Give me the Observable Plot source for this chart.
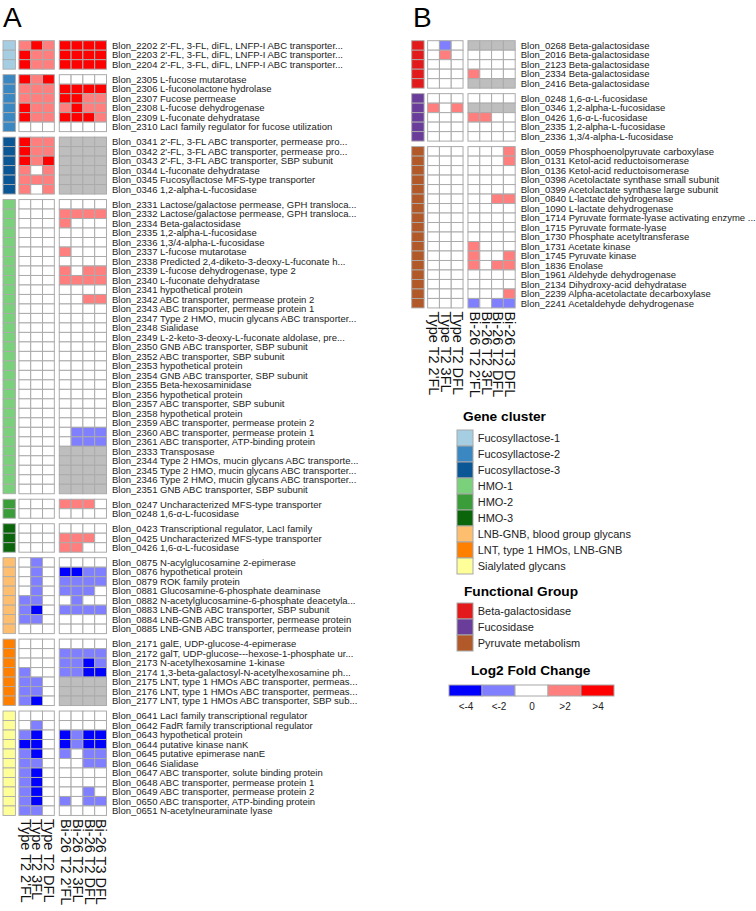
<!DOCTYPE html>
<html><head><meta charset="utf-8">
<script src="https://cdn.jsdelivr.net/npm/d3@7"></script>
<script src="https://cdn.jsdelivr.net/npm/@observablehq/plot@0.6"></script>
<style>
body{margin:0;background:#fff;font-family:"Liberation Sans",Arial,sans-serif;}
#root{position:relative;width:756px;height:911px;overflow:hidden;}
.abs{position:absolute;}
.panel{font-size:28px;line-height:1;color:#000;}
.ltitle{font-weight:bold;font-size:13.7px;line-height:1;color:#000;white-space:nowrap;}
svg{overflow:visible;}
</style></head><body><div id="root"></div>
<script>
const N = null;
const conditions = ["Type T2 2'FL","Type T2 3FL","Type T2 DFL","Bi-26 T2 2'FL","Bi-26 T2 3FL","Bi-26 T2 DFL","Bi-26 T3 DFL"];

const clusterNames = ["Fucosyllactose-1","Fucosyllactose-2","Fucosyllactose-3","HMO-1","HMO-2","HMO-3","LNB-GNB, blood group glycans","LNT, type 1 HMOs, LNB-GNB","Sialylated glycans"];
const clusterColors = ["#a6cee3","#3a87c1","#0b5796","#7bd07b","#3a9d3a","#0b660b","#fdbf6f","#ff7f00","#ffff99"];
const groupNames = ["Beta-galactosidase","Fucosidase","Pyruvate metabolism"];
const groupColors = ["#e31a1c","#6a3d9a","#b15928"];
const fcLabels = ["<-4","<-2","0",">2",">4"];
const fcColors = ["#0000ff","#7f7fff","#ffffff","#ff7f7f","#ff0000"];
const naColor = "#bebebe";

// Panel A
const clusterCountsA = [3,6,6,31,2,3,8,7,11];
const labelsA = [
"Blon_2202 2'-FL, 3-FL, diFL, LNFP-I ABC transporter...",
"Blon_2203 2'-FL, 3-FL, diFL, LNFP-I ABC transporter...",
"Blon_2204 2'-FL, 3-FL, diFL, LNFP-I ABC transporter...",
"Blon_2305 L-fucose mutarotase",
"Blon_2306 L-fuconolactone hydrolase",
"Blon_2307 Fucose permease",
"Blon_2308 L-fucose dehydrogenase",
"Blon_2309 L-fuconate dehydratase",
"Blon_2310 LacI family regulator for fucose utilization",
"Blon_0341 2'-FL, 3-FL ABC transporter, permease pro...",
"Blon_0342 2'-FL, 3-FL ABC transporter, permease pro...",
"Blon_0343 2'-FL, 3-FL ABC transporter, SBP subunit",
"Blon_0344 L-fuconate dehydratase",
"Blon_0345 Fucosyllactose MFS-type transporter",
"Blon_0346 1,2-alpha-L-fucosidase",
"Blon_2331 Lactose/galactose permease, GPH transloca...",
"Blon_2332 Lactose/galactose permease, GPH transloca...",
"Blon_2334 Beta-galactosidase",
"Blon_2335 1,2-alpha-L-fucosidase",
"Blon_2336 1,3/4-alpha-L-fucosidase",
"Blon_2337 L-fucose mutarotase",
"Blon_2338 Predicted 2,4-diketo-3-deoxy-L-fuconate h...",
"Blon_2339 L-fucose dehydrogenase, type 2",
"Blon_2340 L-fuconate dehydratase",
"Blon_2341 hypothetical protein",
"Blon_2342 ABC transporter, permease protein 2",
"Blon_2343 ABC transporter, permease protein 1",
"Blon_2347 Type 2 HMO, mucin glycans ABC transporter...",
"Blon_2348 Sialidase",
"Blon_2349 L-2-keto-3-deoxy-L-fuconate aldolase, pre...",
"Blon_2350 GNB ABC transporter, SBP subunit",
"Blon_2352 ABC transporter, SBP subunit",
"Blon_2353 hypothetical protein",
"Blon_2354 GNB ABC transporter, SBP subunit",
"Blon_2355 Beta-hexosaminidase",
"Blon_2356 hypothetical protein",
"Blon_2357 ABC transporter, SBP subunit",
"Blon_2358 hypothetical protein",
"Blon_2359 ABC transporter, permease protein 2",
"Blon_2360 ABC transporter, permease protein 1",
"Blon_2361 ABC transporter, ATP-binding protein",
"Blon_2333 Transposase",
"Blon_2344 Type 2 HMOs, mucin glycans ABC transporte...",
"Blon_2345 Type 2 HMO, mucin glycans ABC transporter...",
"Blon_2346 Type 2 HMO, mucin glycans ABC transporter...",
"Blon_2351 GNB ABC transporter, SBP subunit",
"Blon_0247 Uncharacterized MFS-type transporter",
"Blon_0248 1,6-α-L-fucosidase",
"Blon_0423 Transcriptional regulator, LacI family",
"Blon_0425 Uncharacterized MFS-type transporter",
"Blon_0426 1,6-α-L-fucosidase",
"Blon_0875 N-acylglucosamine 2-epimerase",
"Blon_0876 hypothetical protein",
"Blon_0879 ROK family protein",
"Blon_0881 Glucosamine-6-phosphate deaminase",
"Blon_0882 N-acetylglucosamine-6-phosphate deacetyla...",
"Blon_0883 LNB-GNB ABC transporter, SBP subunit",
"Blon_0884 LNB-GNB ABC transporter, permease protein",
"Blon_0885 LNB-GNB ABC transporter, permease protein",
"Blon_2171 galE, UDP-glucose-4-epimerase",
"Blon_2172 galT, UDP-glucose---hexose-1-phosphate ur...",
"Blon_2173 N-acetylhexosamine 1-kinase",
"Blon_2174 1,3-beta-galactosyl-N-acetylhexosamine ph...",
"Blon_2175 LNT, type 1 HMOs ABC transporter, permeas...",
"Blon_2176 LNT, type 1 HMOs ABC transporter, permeas...",
"Blon_2177 LNT, type 1 HMOs ABC transporter, SBP sub...",
"Blon_0641 LacI family transcriptional regulator",
"Blon_0642 FadR family transcriptional regulator",
"Blon_0643 hypothetical protein",
"Blon_0644 putative kinase nanK",
"Blon_0645 putative epimerase nanE",
"Blon_0646 Sialidase",
"Blon_0647 ABC transporter, solute binding protein",
"Blon_0648 ABC transporter, permease protein 1",
"Blon_0649 ABC transporter, permease protein 2",
"Blon_0650 ABC transporter, ATP-binding protein",
"Blon_0651 N-acetylneuraminate lyase"
];
const valuesA = [
[3,5,3,5,5,5,5],[5,3,3,5,5,5,5],[5,3,3,5,5,5,5],
[5,3,5,0,0,0,0],[3,3,3,5,5,5,5],[3,3,3,5,5,3,3],[5,3,3,3,5,3,3],[5,3,3,5,5,5,3],[0,0,0,0,0,0,0],
[5,3,3,N,N,N,N],[5,3,3,N,N,N,N],[5,3,5,N,N,N,N],[3,0,3,N,N,N,N],[3,3,3,N,N,N,N],[3,0,3,N,N,N,N],
[0,0,0,0,0,0,0],[0,0,0,3,3,3,3],[0,0,0,3,0,0,0],[0,0,0,0,0,0,0],[0,0,0,0,0,0,0],
[0,0,0,3,0,0,0],[0,0,0,0,0,0,0],[0,0,0,3,0,3,3],[0,0,0,3,3,3,3],[0,0,0,0,0,0,0],
[0,0,0,0,0,3,3],[0,0,0,0,0,0,0],[0,0,0,0,0,0,0],[0,0,0,0,0,0,0],[0,0,0,0,0,0,0],
[0,0,0,0,0,0,0],[0,0,0,0,0,0,0],[0,0,0,0,0,0,0],[0,0,0,0,0,0,0],[0,0,0,0,0,0,0],
[0,0,0,0,0,0,0],[0,0,0,0,0,0,0],[0,0,0,0,0,0,0],[0,0,0,0,0,0,0],[0,0,0,0,-3,-3,-3],
[0,0,0,0,-3,-3,-3],[0,0,0,N,N,N,N],[0,0,0,N,N,N,N],[0,0,0,N,N,N,N],[0,0,0,N,N,N,N],[0,0,0,N,N,N,N],
[0,0,0,3,3,3,0],[0,0,0,0,0,0,0],
[0,0,0,0,0,0,0],[0,0,0,3,3,3,0],[0,0,0,3,3,0,0],
[0,-3,0,0,0,0,0],[0,-3,0,-5,-5,-3,-3],[0,-3,0,-3,-3,-3,-3],[0,-3,0,-3,-3,-3,0],
[-3,-3,0,0,-3,0,0],[-3,-5,0,-3,-3,-3,-3],[-3,-3,0,0,0,0,0],[0,0,0,0,0,0,0],
[0,0,0,0,0,0,0],[0,0,0,-3,-3,-3,-3],[0,0,0,-3,-3,-5,-3],[-3,0,0,-3,-3,-5,-5],
[-3,-3,0,N,N,N,N],[-3,-3,0,N,N,N,N],[-3,-5,0,N,N,N,N],
[0,0,0,0,0,0,0],[0,-3,0,0,0,0,0],[-3,-5,0,-5,-3,-5,-5],[-5,-5,0,-5,-3,-5,-5],
[-3,-5,0,-3,0,-3,-3],[-3,-3,0,0,0,-3,-3],[-3,-5,0,0,0,0,0],[-3,-5,0,0,0,0,0],
[-3,-5,0,0,0,-3,0],[-3,-5,0,-3,0,-3,-3],[-3,-3,0,0,0,0,0]
];

// Panel B
const groupCountsB = [5,5,17];
const labelsB = [
"Blon_0268 Beta-galactosidase","Blon_2016 Beta-galactosidase","Blon_2123 Beta-galactosidase","Blon_2334 Beta-galactosidase","Blon_2416 Beta-galactosidase",
"Blon_0248 1,6-α-L-fucosidase","Blon_0346 1,2-alpha-L-fucosidase","Blon_0426 1,6-α-L-fucosidase","Blon_2335 1,2-alpha-L-fucosidase","Blon_2336 1,3/4-alpha-L-fucosidase",
"Blon_0059 Phosphoenolpyruvate carboxylase","Blon_0131 Ketol-acid reductoisomerase","Blon_0136 Ketol-acid reductoisomerase",
"Blon_0398 Acetolactate synthase small subunit","Blon_0399 Acetolactate synthase large subunit","Blon_0840 L-lactate dehydrogenase",
"Blon_1090 L-lactate dehydrogenase","Blon_1714 Pyruvate formate-lyase activating enzyme ...","Blon_1715 Pyruvate formate-lyase",
"Blon_1730 Phosphate acetyltransferase","Blon_1731 Acetate kinase","Blon_1745 Pyruvate kinase","Blon_1836 Enolase",
"Blon_1961 Aldehyde dehydrogenase","Blon_2134 Dihydroxy-acid dehydratase","Blon_2239 Alpha-acetolactate decarboxylase",
"Blon_2241 Acetaldehyde dehydrogenase"
];
const valuesB = [
[0,-3,0,N,N,N,N],[0,3,0,0,0,0,0],[0,0,0,0,0,0,0],[0,0,0,3,0,0,0],[0,0,0,N,N,N,N],
[0,0,0,0,0,0,0],[3,0,3,N,N,N,N],[0,0,0,3,3,0,0],[0,0,0,0,0,0,0],[0,0,0,0,0,0,0],
[0,0,0,0,0,0,3],[0,0,0,0,0,0,3],[0,0,0,0,0,0,0],[0,0,0,0,0,0,0],[0,0,0,0,0,0,0],
[0,0,0,0,0,3,3],[0,0,0,0,0,0,0],[0,0,0,0,0,0,0],[0,0,0,0,0,0,0],[0,0,0,0,0,0,0],
[0,0,0,3,0,0,0],[0,0,0,3,0,0,3],[0,0,0,3,0,3,3],[0,0,0,0,0,0,0],[0,0,0,0,0,0,0],
[0,0,0,0,0,0,3],[0,0,0,-3,0,-3,-3]
];

// ---- layout (in cell units) ----
const UX = 11.8, UY = 9.49, GAP = 5.5 / UY;
const X_TYPE = 1.35, X_BI = X_TYPE + 3 + 0.42, X_END = X_BI + 4;
const COLX = conditions.map((_, j) => j < 3 ? X_TYPE + j : X_BI + (j - 3));
const STROKE = "#ababab";

const colorDomain = [...fcLabels, "NA", ...clusterNames, ...groupNames];
const colorRange = [...fcColors, naColor, ...clusterColors, ...groupColors];
function binOf(v) {
  if (v == null) return "NA";
  if (v < -4) return "<-4";
  if (v < -2) return "<-2";
  if (v > 4) return ">4";
  if (v > 2) return ">2";
  return "0";
}

function buildPanel(labels, keys, counts, values, o) {
  const rows = [];
  let i = 0;
  counts.forEach((n, g) => {
    for (let k = 0; k < n; k++, i++) {
      const y1 = i + g * GAP;
      rows.push({label: labels[i], key: keys[g], vals: values[i], y1, y2: y1 + 1, yc: y1 + 0.5});
    }
  });
  const total = i + (counts.length - 1) * GAP;
  const cells = rows.flatMap(r => r.vals.map((v, j) => ({x1: COLX[j], x2: COLX[j] + 1, y1: r.y1, y2: r.y2, bin: binOf(v)})));
  const cols = conditions.map((name, j) => ({name, xc: COLX[j] + 0.5}));
  return Plot.plot({
    width: o.width, height: o.height, margin: 0,
    style: {fontFamily: "'Liberation Sans', Arial, sans-serif", background: "transparent", overflow: "visible"},
    x: {domain: [0, X_END], range: [o.left, o.left + X_END * UX], axis: null},
    y: {domain: [0, total], range: [o.top, o.top + total * UY], axis: null},
    color: {type: "ordinal", domain: colorDomain, range: colorRange},
    marks: [
      Plot.rect(rows, {x1: 0, x2: 1.05, y1: "y1", y2: "y2", fill: "key", stroke: STROKE, strokeWidth: 0.9}),
      Plot.rect(cells, {x1: "x1", x2: "x2", y1: "y1", y2: "y2", fill: "bin", stroke: STROKE, strokeWidth: 1}),
      Plot.text(rows, {x: () => X_END, y: "yc", text: "label", textAnchor: "start", dx: 5, fontSize: 9.5, fill: "#222"}),
      Plot.text(cols, {x: "xc", y: () => total, text: "name", rotate: 90, textAnchor: "start", dy: 3, fontSize: 14.5, fill: "#111"})
    ]
  });
}

const root = document.getElementById("root");
function place(el, left, top) {
  el.classList.add("abs");
  el.style.left = left + "px";
  el.style.top = top + "px";
  root.appendChild(el);
  return el;
}
function textDiv(cls, txt, left, top) {
  const d = document.createElement("div");
  d.className = cls;
  d.textContent = txt;
  return place(d, left, top);
}

place(buildPanel(labelsA, clusterNames, clusterCountsA, valuesA, {width: 400, height: 911, left: 3, top: 40.7}), 0, 0);
place(buildPanel(labelsB, groupNames, groupCountsB, valuesB, {width: 356, height: 420, left: 11.7, top: 40.7}), 400, 0);

textDiv("panel", "A", 3, 4);
textDiv("panel", "B", 413, 4);

function swatchLegend(names, colors) {
  const S = 16.7;
  return Plot.plot({
    width: 260, height: names.length * S + 1, margin: 0,
    style: {fontFamily: "'Liberation Sans', Arial, sans-serif", background: "transparent", overflow: "visible"},
    x: {type: "band", domain: ["s"], range: [0.5, S + 0.5], padding: 0, axis: null},
    y: {type: "band", domain: names, range: [0.5, names.length * S + 0.5], padding: 0, axis: null},
    color: {type: "ordinal", domain: names, range: colors},
    marks: [
      Plot.cell(names, {x: () => "s", y: d => d, fill: d => d, stroke: "#a8a8a8", strokeWidth: 1, inset: 0}),
      Plot.text(names, {x: () => "s", y: d => d, text: d => d, textAnchor: "start", dx: 12.2, fontSize: 11, fill: "#222"})
    ]
  });
}

textDiv("ltitle", "Gene cluster", 463, 410);
place(swatchLegend(clusterNames, clusterColors), 455.5, 426.2);
textDiv("ltitle", "Functional Group", 464, 585);
place(swatchLegend(groupNames, groupColors), 455.5, 600.5);
textDiv("ltitle", "Log2 Fold Change", 471, 664.3);

const fcLegend = Plot.plot({
  width: 180, height: 32, margin: 0,
  style: {fontFamily: "'Liberation Sans', Arial, sans-serif", background: "transparent", overflow: "visible"},
  x: {type: "band", domain: fcLabels, range: [0.5, 169.8], padding: 0, axis: null},
  y: {type: "band", domain: ["bar"], range: [0.5, 12.2], padding: 0, axis: null},
  color: {type: "ordinal", domain: fcLabels, range: fcColors},
  marks: [
    Plot.cell(fcLabels, {x: d => d, y: () => "bar", fill: d => d, stroke: "#a8a8a8", strokeWidth: 1, inset: 0}),
    Plot.text(fcLabels, {x: d => d, y: () => "bar", text: d => d, dy: 15.5, fontSize: 10, fill: "#222"})
  ]
});
place(fcLegend, 445.5, 684);
</script></body></html>
